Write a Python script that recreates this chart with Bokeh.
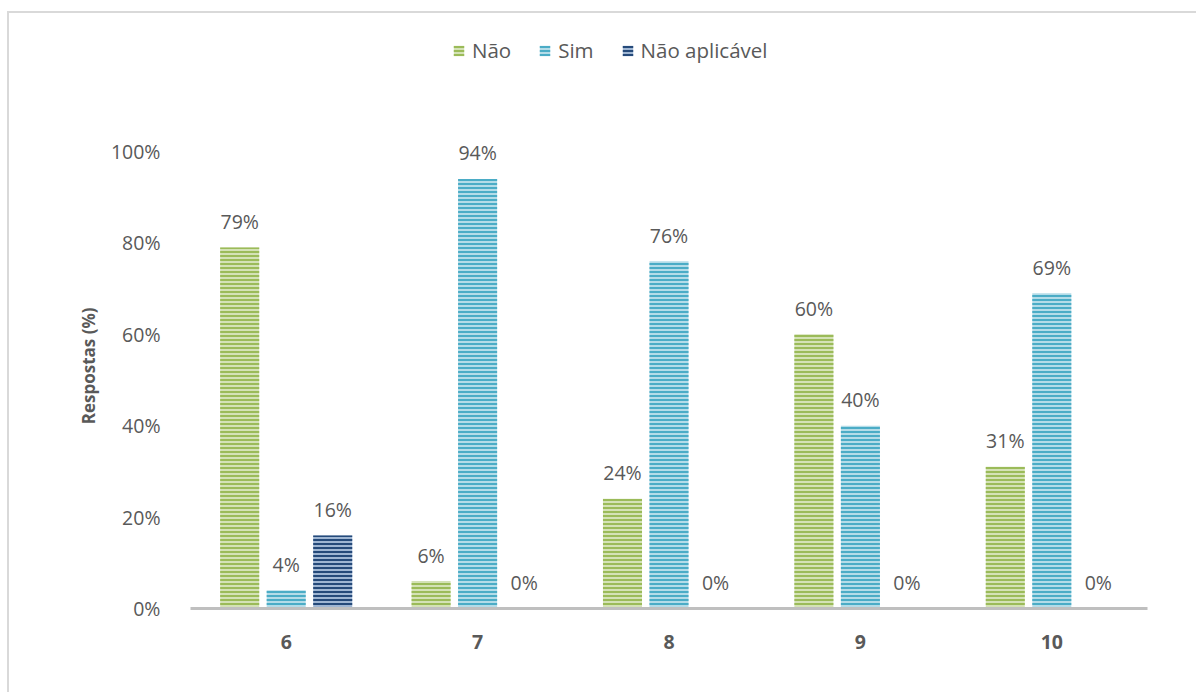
from bokeh.plotting import figure
from bokeh.models import (ColumnDataSource, FactorRange, Range1d, FixedTicker,
                          PrintfTickFormatter, Legend, LegendItem)
from bokeh.transform import dodge
from bokeh.embed import file_html
from bokeh.resources import INLINE

categories = ["6", "7", "8", "9", "10"]
nao = [79, 6, 24, 60, 31]
sim = [4, 94, 76, 40, 69]
nao_aplicavel = [16, 0, 0, 0, 0]
series_names = ["Não", "Sim", "Não aplicável"]
y_ticks = [0, 20, 40, 60, 80, 100]

FONT = "Open Sans"
GREY = "#595959"

p = figure(x_range=FactorRange(factors=categories), y_range=Range1d(0, 126.5),
           width=1189, height=681, output_backend="svg", toolbar_location=None,
           min_border_left=181, min_border_right=51, min_border_top=17,
           min_border_bottom=86, outline_line_color=None,
           margin=(11, 0, 0, 7),
           styles={"border-left": "2px solid #d9d9d9", "border-top": "2px solid #d9d9d9"})
p.xgrid.grid_line_color = None
p.ygrid.grid_line_color = None

series = [
    (nao, -0.243, "#d4e2b6", "#9bbb59"),
    (sim, 0.0, "#b4dce8", "#4bacc6"),
    (nao_aplicavel, 0.243, "#9fb6d3", "#254a7a"),
]
items = []
for (vals, off, light, dark), name in zip(series, series_names):
    src = ColumnDataSource(dict(cat=categories, val=vals,
                                lbl=[f"{v}%" for v in vals]))
    r = p.vbar(x=dodge("cat", off, range=p.x_range), top="val", width=0.204,
               source=src, fill_color=light, line_color=None,
               hatch_pattern="horizontal_line", hatch_color=dark,
               hatch_scale=4, hatch_weight=2)
    p.text(x=dodge("cat", off, range=p.x_range), y="val", text="lbl", source=src,
           text_align="center", text_baseline="middle", y_offset=-26,
           text_font_size="19.5px", text_color=GREY, text_font={"value": FONT})
    items.append(LegendItem(label=name, renderers=[r]))

legend = Legend(items=items, orientation="horizontal", location=(262, 544),
                glyph_width=13, glyph_height=13, label_standoff=7, spacing=27,
                padding=0, margin=0, border_line_color=None,
                background_fill_alpha=0,
                label_text_font=FONT, label_text_font_size="20.5px",
                label_text_color=GREY)
p.add_layout(legend, "center")

# y axis
p.yaxis.ticker = FixedTicker(ticks=y_ticks)
p.yaxis.formatter = PrintfTickFormatter(format="%d%%")
p.yaxis.axis_line_color = None
p.yaxis.major_tick_line_color = None
p.yaxis.minor_tick_line_color = None
p.yaxis.major_label_standoff = 24
p.yaxis.major_label_text_font = FONT
p.yaxis.major_label_text_font_size = "19.5px"
p.yaxis.major_label_text_color = GREY
# trailing non-breaking spaces centre the label on the chart area below the legend
p.yaxis.axis_label = "Respostas (%)" + "\u00a0" * 21
p.yaxis.axis_label_text_font = FONT
p.yaxis.axis_label_text_font_style = "bold"
p.yaxis.axis_label_text_font_size = "17px"
p.yaxis.axis_label_text_color = GREY
p.yaxis.axis_label_standoff = 8

# x axis
p.xaxis.axis_line_color = "#bfbfbf"
p.xaxis.axis_line_width = 3
p.xaxis.major_tick_line_color = None
p.xaxis.minor_tick_line_color = None
p.xaxis.major_label_standoff = 20
p.xaxis.major_label_text_font = FONT
p.xaxis.major_label_text_font_size = "19.5px"
p.xaxis.major_label_text_font_style = "bold"
p.xaxis.major_label_text_color = GREY

open("out.html", "w").write(file_html(p, INLINE))
